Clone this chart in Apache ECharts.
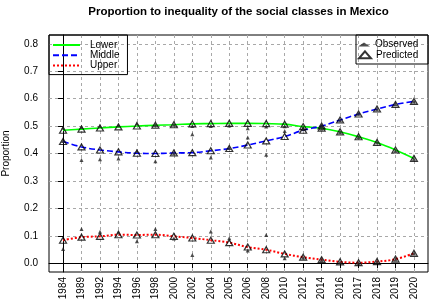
<!DOCTYPE html>
<html>
<head>
<meta charset="utf-8">
<script src="https://cdn.jsdelivr.net/npm/echarts@6/dist/echarts.min.js"></script>
<style>html,body{margin:0;padding:0;background:#fff}#main{width:439px;height:307px}</style>
</head>
<body>
<div id="main"></div>
<script>
var years = ['1984','1989','1992','1994','1996','1998','2000','2002','2004','2005',
             '2006','2008','2010','2012','2014','2016','2017','2018','2019','2020'];
var yTicks = [0, 0.1, 0.2, 0.3, 0.4, 0.5, 0.6, 0.7, 0.8];

// predicted (fitted) proportions
var lowerPred  = [0.485,0.489,0.493,0.497,0.500,0.503,0.505,0.508,0.509,0.510,0.510,0.509,0.507,0.498,0.492,0.479,0.461,0.440,0.413,0.382];
var middlePred = [0.444,0.424,0.413,0.406,0.401,0.400,0.402,0.403,0.410,0.418,0.431,0.446,0.462,0.485,0.500,0.522,0.544,0.562,0.579,0.590];
var upperPred  = [0.084,0.095,0.098,0.104,0.103,0.104,0.098,0.092,0.084,0.075,0.059,0.049,0.034,0.022,0.013,0.005,0.002,0.006,0.015,0.036];

// observed proportions
var lowerObs  = [0.495,0.497,0.500,0.503,0.510,0.503,0.505,0.500,0.500,0.502,0.492,0.498,0.499,0.490,0.490,0.478,0.460,0.440,0.410,0.380];
var middleObs = [0.446,0.376,0.379,0.382,0.410,0.372,0.400,0.470,0.385,0.420,0.458,0.395,0.482,0.490,0.500,0.520,0.545,0.560,0.580,0.590];
var upperObs  = [0.052,0.125,0.115,0.115,0.080,0.125,0.090,0.030,0.116,0.091,0.046,0.103,0.018,0.020,0.012,0.004,0.001,0.005,0.014,0.035];

function pts(arr) { return arr.map(function (v, i) { return [i, v]; }); }
var idx = years.map(function (y, i) { return i; });
var font = 'Liberation Sans, Arial, sans-serif';

var myChart = echarts.init(document.getElementById('main'));
var option = {
    animation: false,
    backgroundColor: '#fff',
    textStyle: { fontFamily: font },
    title: {
        text: 'Proportion to inequality of the social classes in Mexico',
        left: 238.5, top: 6, padding: 0, textAlign: 'center',
        textStyle: { fontSize: 11.5, fontWeight: 'bold', color: '#000', fontFamily: font }
    },
    grid: {
        left: 49, right: 11, top: 35, bottom: 35,
        outerBoundsMode: 'none', containLabel: false,
        show: true, borderColor: '#000', borderWidth: 1
    },
    xAxis: {
        type: 'value', min: -0.76, max: 19.76,
        axisLine: { show: true, lineStyle: { color: '#000' } },
        axisTick: { show: true, customValues: idx, length: 5, lineStyle: { color: '#000' } },
        axisLabel: {
            customValues: idx, rotate: 90, margin: 5, fontSize: 10, color: '#000', fontFamily: font,
            formatter: function (v) { return years[Math.round(v)]; }
        },
        splitLine: { show: true, lineStyle: { color: '#a8a8a8', type: [3, 3] } }
    },
    yAxis: {
        type: 'value', min: -0.032, max: 0.832,
        name: 'Proportion', nameLocation: 'middle', nameRotate: 90, nameGap: 38,
        nameTextStyle: { fontSize: 10, color: '#000', fontFamily: font },
        axisLine: { show: true, lineStyle: { color: '#000' } },
        axisTick: { show: true, customValues: yTicks, length: 5, lineStyle: { color: '#000' } },
        axisLabel: {
            customValues: yTicks, margin: 11, fontSize: 10, color: '#000', fontFamily: font,
            formatter: function (v) { return v.toFixed(1); }
        },
        splitLine: { show: true, lineStyle: { color: '#a8a8a8', type: [3, 3] } }
    },
    legend: [
        {
            data: ['Lower', 'Middle', 'Upper'],
            orient: 'vertical', left: 49, top: 35,
            padding: [5, 8, 4, 3], itemWidth: 27, itemHeight: 8, itemGap: 0.3,
            borderColor: '#000', borderWidth: 1,
            itemStyle: { opacity: 0 },
            textStyle: { fontSize: 10, lineHeight: 9, color: '#000', fontFamily: font, padding: [0, 0, 0, 5] }
        },
        {
            data: ['Observed'],
            orient: 'vertical', left: 356, top: 35,
            padding: [4.5, 9.7, 14.5, 2], itemWidth: 12, itemHeight: 4,
            borderColor: '#000', borderWidth: 1,
            textStyle: { fontSize: 10, lineHeight: 9, color: '#000', fontFamily: font }
        },
        {
            data: ['Predicted'],
            orient: 'vertical', left: 358, top: 49.8,
            padding: 0, itemWidth: 12, itemHeight: 7,
            textStyle: { fontSize: 10, lineHeight: 9, color: '#000', fontFamily: font }
        }
    ],
    series: [
        {
            name: 'Lower', type: 'line', smooth: 0.4, symbol: 'none', data: pts(lowerPred),
            lineStyle: { color: '#00ff00', width: 1.6 }, itemStyle: { color: '#00ff00' }
        },
        {
            name: 'Middle', type: 'line', smooth: 0.4, symbol: 'none', data: pts(middlePred),
            lineStyle: { color: '#0000ff', width: 1.6, type: [6, 3] }, itemStyle: { color: '#0000ff' }
        },
        {
            name: 'Upper', type: 'line', smooth: 0.4, symbol: 'none', data: pts(upperPred),
            lineStyle: { color: '#ff0000', width: 2, type: [2, 2] }, itemStyle: { color: '#ff0000' }
        },
        {
            name: 'Predicted', type: 'scatter', symbol: 'triangle', symbolSize: [7, 6],
            data: pts(lowerPred).concat(pts(middlePred), pts(upperPred)),
            itemStyle: { color: 'transparent', borderColor: '#000', borderWidth: 1.2 }, z: 3
        },
        {
            name: 'Observed', type: 'scatter', symbol: 'triangle', symbolSize: 4,
            data: pts(lowerObs).concat(pts(middleObs), pts(upperObs)),
            itemStyle: { color: '#222' }, z: 4
        }
    ]
};
myChart.setOption(option);
</script>
</body>
</html>
